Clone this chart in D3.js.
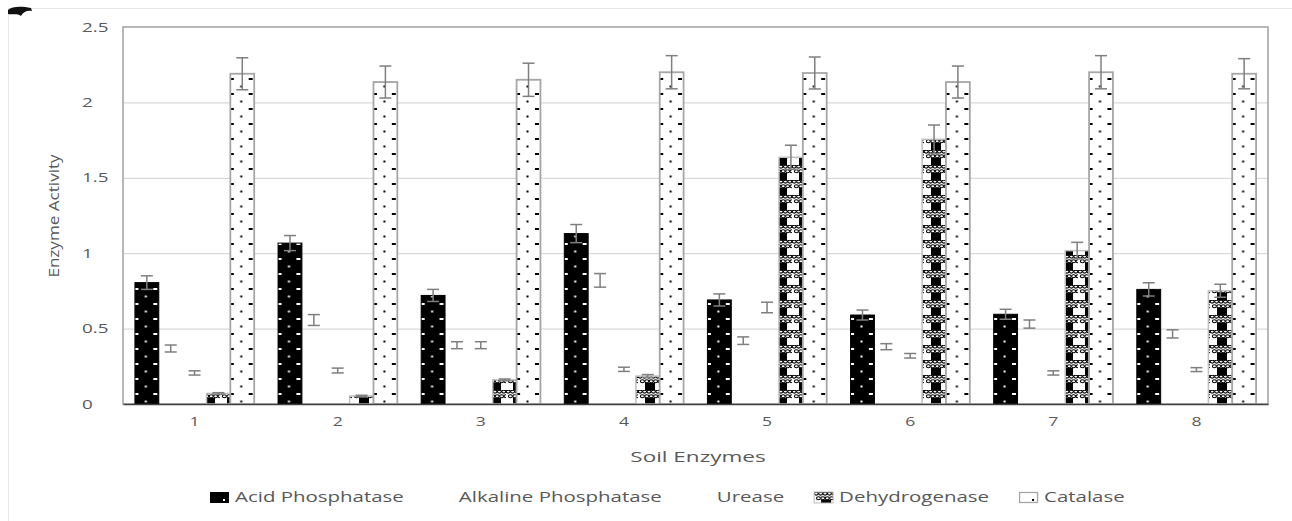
<!DOCTYPE html>
<html>
<head>
<meta charset="utf-8">
<script src="https://cdn.jsdelivr.net/npm/d3@7"></script>
<style>
  body { margin: 0; background: #fff; }
  text { font-family: "Open Sans", sans-serif; fill: #595959; }
</style>
</head>
<body>
<svg id="chart"></svg>
<script>
// values
const categories = ['1', '2', '3', '4', '5', '6', '7', '8'];
const seriesNames = ['Acid Phosphatase', 'Alkaline Phosphatase', 'Urease', 'Dehydrogenase', 'Catalase'];

const acid      = [0.805, 1.067, 0.72, 1.13, 0.69, 0.59, 0.595, 0.76];
const acidErr   = [0.045, 0.05, 0.04, 0.06, 0.04, 0.033, 0.033, 0.044];
const alkaline  = [0.368, 0.557, 0.39, 0.82, 0.42, 0.38, 0.53, 0.465];
const alkErr    = [0.023, 0.036, 0.023, 0.045, 0.025, 0.02, 0.027, 0.027];
const urease    = [0.206, 0.222, 0.39, 0.23, 0.64, 0.32, 0.206, 0.228];
const ureErr    = [0.014, 0.016, 0.023, 0.014, 0.035, 0.015, 0.014, 0.013];
const dehydro   = [0.07, 0.053, 0.16, 0.185, 1.636, 1.755, 1.017, 0.751];
const dehErr    = [0.005, 0.005, 0.006, 0.01, 0.08, 0.095, 0.055, 0.043];
const catalase  = [2.19, 2.135, 2.15, 2.2, 2.195, 2.135, 2.2, 2.19];
const catErr    = [0.106, 0.106, 0.11, 0.11, 0.106, 0.106, 0.11, 0.1];

const yTicks = [0, 0.5, 1, 1.5, 2, 2.5];
const yTickLabels = ['0', '0.5', '1', '1.5', '2', '2.5'];

const seriesValues = [acid, alkaline, urease, dehydro, catalase];
const seriesErrors = [acidErr, alkErr, ureErr, dehErr, catErr];

const W = 1292, H = 521;
const plot = { left: 123, right: 1268, top: 27, bottom: 404 };

const svg = d3.select('#chart').attr('width', W).attr('height', H);
const defs = svg.append('defs');

// the source image is stretched sideways, so text gets widened too
function stretch(sel, k) {
  sel.each(function () {
    const len = this.getComputedTextLength();
    d3.select(this).attr('textLength', len * k).attr('lengthAdjust', 'spacingAndGlyphs');
  });
}

// outer chart frame + little blot in the corner
svg.append('rect')
  .attr('x', 8.5).attr('y', 8.5).attr('width', W).attr('height', H)
  .attr('fill', 'none').attr('stroke', '#e6e6e6');
svg.append('path')
  .attr('d', 'M8,10 C12,6 22,6 31,8 L32,11 C27,10 23,12 21,16 C17,13 12,15 8,14 Z')
  .attr('fill', '#111');

const x = d3.scaleBand().domain(categories).range([plot.left, plot.right]);
const xs = d3.scaleBand().domain(seriesNames).range([0, x.bandwidth()]).paddingOuter(0.5);
const y = d3.scaleLinear().domain([0, 2.5]).range([plot.bottom, plot.top]);
const bw = xs.bandwidth();

// gridlines
svg.append('g')
  .attr('transform', `translate(${plot.left},0)`)
  .call(d3.axisLeft(y).tickValues(yTicks.slice(1, -1)).tickSize(-(plot.right - plot.left)).tickFormat(''))
  .call(g => g.select('.domain').remove())
  .call(g => g.selectAll('line').attr('stroke', '#d9d9d9').attr('stroke-width', 1.2));

// plot frame
svg.append('rect')
  .attr('x', plot.left).attr('y', plot.top)
  .attr('width', plot.right - plot.left).attr('height', plot.bottom - plot.top)
  .attr('fill', 'none').attr('stroke', '#a6a6a6').attr('stroke-width', 1.6);

// y tick labels (left aligned, like the original)
svg.append('g').selectAll('text')
  .data(yTicks)
  .join('text')
  .attr('x', 82)
  .attr('y', d => y(d))
  .attr('dy', '0.36em')
  .attr('font-size', 13)
  .text((d, i) => yTickLabels[i])
  .call(stretch, 1.45);

// patterns
function dotPattern(id, x0, bg, dot) {
  const tw = bw - 5;
  const p = defs.append('pattern')
    .attr('id', id).attr('patternUnits', 'userSpaceOnUse')
    .attr('x', x0 + 1.5).attr('y', 0).attr('width', tw).attr('height', 15);
  p.append('rect').attr('width', tw).attr('height', 15).attr('fill', bg);
  p.append('rect').attr('x', 0).attr('y', 3).attr('width', 2).attr('height', 2).attr('fill', dot);
  p.append('rect').attr('x', tw / 2 - 1).attr('y', 10.5).attr('width', 2).attr('height', 2).attr('fill', dot);
  p.append('rect').attr('x', tw - 2).attr('y', 3).attr('width', 2).attr('height', 2).attr('fill', dot);
}

const dp = defs.append('pattern')
  .attr('id', 'dehy').attr('patternUnits', 'userSpaceOnUse')
  .attr('width', 22).attr('height', 15);
dp.append('rect').attr('width', 22).attr('height', 15).attr('fill', '#fff');
dp.append('rect').attr('x', 7).attr('width', 10).attr('height', 15).attr('fill', '#000');
dp.append('rect').attr('y', 0).attr('width', 22).attr('height', 8).attr('fill', '#fff');
[1.6, 6.2].forEach((cy, r) => {
  d3.range(0, 5).forEach(j => {
    dp.append('ellipse')
      .attr('cx', 2.2 + j * 4.4 + (r ? 2.2 : 0)).attr('cy', cy)
      .attr('rx', 2).attr('ry', 1.5)
      .attr('fill', '#fff').attr('stroke', '#000').attr('stroke-width', 1.1);
  });
});

// bars
const bars = svg.append('g');
seriesNames.forEach((name, s) => {
  const rows = categories.map((c, i) => ({ c, i, v: seriesValues[s][i], e: seriesErrors[s][i] }));
  const g = bars.append('g');
  g.selectAll('rect')
    .data(rows)
    .join('rect')
    .attr('x', d => x(d.c) + xs(name))
    .attr('y', d => y(d.v))
    .attr('width', bw)
    .attr('height', d => y(0) - y(d.v))
    .each(function (d) {
      const r = d3.select(this);
      const x0 = x(d.c) + xs(name);
      if (s === 0) {
        dotPattern('acid' + d.i, x0, '#000', '#fff');
        r.attr('fill', `url(#acid${d.i})`).attr('stroke', '#000').attr('stroke-width', 1);
      } else if (s === 3) {
        r.attr('fill', 'url(#dehy)').attr('stroke', '#bfbfbf').attr('stroke-width', 1.5);
      } else if (s === 4) {
        dotPattern('cat' + d.i, x0, '#fff', '#000');
        r.attr('fill', `url(#cat${d.i})`).attr('stroke', '#a6a6a6').attr('stroke-width', 1.8);
      } else {
        r.attr('fill', 'none');
      }
    });
});

// error bars
const cap = 6;
seriesNames.forEach((name, s) => {
  const rows = categories.map((c, i) => ({ c, v: seriesValues[s][i], e: seriesErrors[s][i] }));
  const g = svg.append('g').attr('stroke', '#7f7f7f').attr('stroke-width', 1.5);
  const eb = g.selectAll('g').data(rows).join('g')
    .attr('transform', d => `translate(${x(d.c) + xs(name) + bw / 2},0)`);
  eb.append('line').attr('y1', d => y(d.v - d.e)).attr('y2', d => y(d.v + d.e));
  eb.append('line').attr('x1', -cap).attr('x2', cap).attr('y1', d => y(d.v + d.e)).attr('y2', d => y(d.v + d.e));
  eb.append('line').attr('x1', -cap).attr('x2', cap).attr('y1', d => y(d.v - d.e)).attr('y2', d => y(d.v - d.e));
});

// x axis
svg.append('g')
  .attr('transform', `translate(0,${plot.bottom})`)
  .call(d3.axisBottom(x).tickSize(0).tickPadding(13))
  .call(g => g.select('.domain').attr('stroke', '#404040').attr('stroke-width', 1.6))
  .call(g => g.selectAll('text').attr('font-size', 13).attr('fill', '#595959')
    .style('font-family', '"Open Sans", sans-serif').call(stretch, 1.35));

// axis titles
svg.append('text')
  .attr('x', 698).attr('y', 457).attr('dy', '0.35em')
  .attr('text-anchor', 'middle').attr('font-size', 15)
  .text('Soil Enzymes')
  .call(stretch, 1.5);

svg.append('text')
  .attr('transform', 'translate(54,216) rotate(-90)')
  .attr('dy', '0.35em')
  .attr('text-anchor', 'middle').attr('font-size', 14)
  .text('Enzyme Activity')
  .call(stretch, 1.22);

// legend
const legend = svg.append('g');
let lx = 210;
seriesNames.forEach((name, s) => {
  const item = legend.append('g').attr('transform', `translate(${lx},492)`);
  if (s === 0) {
    item.append('rect').attr('width', 19).attr('height', 11).attr('fill', '#000');
    item.append('rect').attr('x', 13).attr('y', 7).attr('width', 2).attr('height', 2).attr('fill', '#fff');
  } else if (s === 3) {
    item.append('rect').attr('width', 19).attr('height', 11).attr('fill', 'url(#dehy)')
      .attr('stroke', '#bfbfbf');
  } else if (s === 4) {
    item.append('rect').attr('x', 0.5).attr('y', 0.5).attr('width', 18).attr('height', 10)
      .attr('fill', '#fff').attr('stroke', '#a6a6a6').attr('stroke-width', 1.3);
    item.append('rect').attr('x', 13).attr('y', 7).attr('width', 2).attr('height', 2).attr('fill', '#000');
  }
  const t = item.append('text')
    .attr('x', 25).attr('y', 5.5).attr('dy', '0.35em')
    .attr('font-size', 14)
    .text(name)
    .call(stretch, 1.46);
  lx += 25 + +t.attr('textLength') + 30;
});
</script>
</body>
</html>
